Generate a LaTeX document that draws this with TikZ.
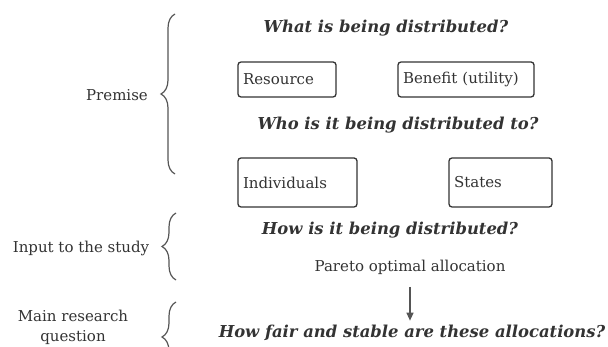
\documentclass[tikz,border=0pt]{standalone}
\usepackage{fontspec}
\setmainfont{DejaVu Serif}
\usetikzlibrary{decorations.pathreplacing,arrows.meta}
\definecolor{ink}{HTML}{333333}
\definecolor{stroke}{HTML}{555555}
\begin{document}
\begin{tikzpicture}[x=1pt,y=-1pt,
  every node/.style={text=ink},
  plain/.style={font=\fontsize{15}{20}\selectfont},
  question/.style={font=\fontsize{16.4}{19}\selectfont\bfseries\itshape},
  itembox/.style={draw=ink, line width=1.3pt, rounded corners=3pt,
    inner xsep=5pt, align=left, font=\fontsize{15}{18}\selectfont},
  bracket/.style={draw=stroke, line width=1.2pt,
    decorate, decoration={brace, amplitude=14pt, aspect=0.5}},
  flow/.style={draw=stroke, line width=1.2pt, -{Triangle[length=8pt,width=7pt]}}
]
\clip (0,0) rectangle (608,347);
\useasboundingbox (0,0) rectangle (608,347);

% section labels on the left
\node[plain] (premise) at (117,95) {Premise};
\node[plain] (input) at (81,248) {Input to the study};
\node[plain, align=center] (mainq) at (73,327) {Main research\\question};

% braces grouping each section
\coordinate (b1a) at (175,174);
\coordinate (b1b) at (175,14);
\draw[bracket] (b1a) -- (b1b);
\coordinate (b2a) at (176,280);
\coordinate (b2b) at (176,213);
\draw[bracket] (b2a) -- (b2b);
\coordinate (b3a) at (176,372);
\coordinate (b3b) at (176,302);
\draw[bracket] (b3a) -- (b3b);

% premise: what is distributed
\node[question] (what) at (386,28) {What is being distributed?};
\node[itembox, text width=88pt, minimum height=35pt] (resource) at (287,79.5) {Resource};
\node[itembox, text width=126pt, minimum height=35pt] (benefit) at (466,79.5) {Benefit (utility)};

% premise: who receives it
\node[question] (who) at (398,125) {Who is it being distributed to?};
\node[itembox, text width=109pt, minimum height=49pt] (indiv) at (297.5,182.5) {Individuals};
\node[itembox, text width=93pt, minimum height=49pt] (states) at (500.5,182.5) {States};

% input to the study
\node[question] (how) at (390,230) {How is it being distributed?};
\node[plain] (pareto) at (410,267) {Pareto optimal allocation};

% main research question
\node[question] (fair) at (412,333) {How fair and stable are these allocations?};
\draw[flow, shorten <=9pt, shorten >=1pt] (pareto.south) -- (pareto.south |- fair.north);
\end{tikzpicture}
\end{document}
